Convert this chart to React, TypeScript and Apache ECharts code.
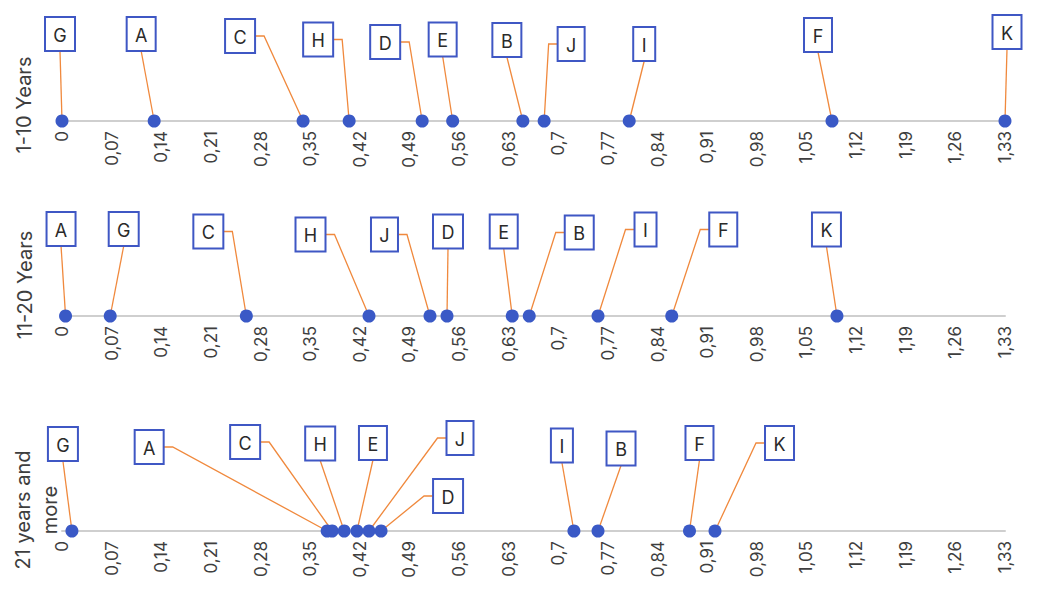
import React, { useEffect, useRef } from "react";
import * as echarts from "echarts";

// ---- data ----
const letters = ["A", "B", "C", "D", "E", "F", "G", "H", "I", "J", "K"];
const rowTitles = ["1-10 Years", "11-20 Years", "21 years and\nmore"];
const years1to10 = [0.13, 0.65, 0.34, 0.508, 0.551, 1.086, 0, 0.405, 0.8, 0.68, 1.33];
const years11to20 = [0.005, 0.659, 0.26, 0.543, 0.635, 0.86, 0.068, 0.433, 0.756, 0.519, 1.093];
const years21plus = [0.374, 0.756, 0.381, 0.45, 0.416, 0.885, 0.014, 0.398, 0.722, 0.433, 0.921];
const rowValues = [years1to10, years11to20, years21plus];
const axisMin = 0;
const axisMax = 1.33;
const axisStep = 0.07;

// ---- layout (label box offsets from each point, px) ----
const labelOffsets1 = [[-13, -87], [-16, -81], [-63, -85], [-37, -79], [-10, -81.5], [-14, -86], [-2, -87], [-31, -81.5], [15, -77], [27, -77], [2, -89]];
const labelOffsets2 = [[-4.5, -87], [50, -83.5], [-38, -84.5], [1, -84.5], [-8.5, -84.5], [51.5, -86.5], [13.5, -87], [-58.5, -81.5], [47.5, -86.5], [-45.5, -81.5], [-10.5, -86.5]];
const labelOffsets3 = [[-178, -84], [23, -82.5], [-87, -89], [67, -35], [16, -88], [10, -88], [-9, -87], [-24, -87.5], [-12, -85.5], [91, -93], [64.5, -88]];
const rowOffsets = [labelOffsets1, labelOffsets2, labelOffsets3];
const gridTops = [20, 215, 430];
const gridHeight = 101;
const titleCenters = [[24, 105], [25, 285], [36, 510]];

const FONT = "Inter, 'Noto Sans', sans-serif";
const DOT = "#3a59c6";
const BOX = "#3f57c4";
const LEAD = "#f0893d";

let measureCtx: CanvasRenderingContext2D | null = null;
function textWidth(t: string, font: string) {
  if (!measureCtx) {
    const c = document.createElement("canvas");
    measureCtx = c.getContext("2d");
  }
  if (!measureCtx) return 12;
  measureCtx.font = font;
  return measureCtx.measureText(t).width;
}

const fmt = (v: number) => String(Number(v.toFixed(2))).replace(".", ",");

export default function App() {
  const ref = useRef<HTMLDivElement>(null);
  useEffect(() => {
    if (!ref.current) return;
    const chart = echarts.init(ref.current, null, { renderer: "svg" });
    const boxFont = "18px Inter";
    const grids: any[] = [];
    const xAxes: any[] = [];
    const yAxes: any[] = [];
    const series: any[] = [];
    rowValues.forEach((vals, r) => {
      grids.push({ left: 62, right: 32, top: gridTops[r], height: gridHeight, containLabel: false });
      xAxes.push({
        type: "value",
        gridIndex: r,
        min: axisMin,
        max: axisMax,
        interval: axisStep,
        position: "bottom",
        axisLine: { show: true, onZero: false, lineStyle: { color: "#cfcfcf", width: 2 } },
        axisTick: { show: false },
        splitLine: { show: false },
        axisLabel: {
          rotate: 90,
          margin: 10,
          fontSize: 17,
          color: "#3e3e3e",
          fontFamily: FONT,
          showMinLabel: true,
          showMaxLabel: true,
          formatter: (v: number) => fmt(v),
        },
      });
      yAxes.push({
        type: "value",
        gridIndex: r,
        min: 0,
        max: 1,
        show: false,
      });
      const offs = rowOffsets[r];
      series.push({
        type: "custom",
        xAxisIndex: r,
        yAxisIndex: r,
        clip: false,
        z: 2,
        data: vals.map((v, i) => [v, 0, i]),
        renderItem: (params: any, api: any) => {
          const i = params.dataIndex;
          const pt = api.coord([api.value(0), 0]);
          const letter = letters[i];
          const [dx, dy] = offs[i];
          const cx = pt[0] + dx;
          const cy = pt[1] + dy;
          const w = Math.round(textWidth(letter, boxFont) + 17);
          const h = 34;
          const left = cx - w / 2;
          const right = cx + w / 2;
          const top = cy - h / 2;
          const bottom = cy + h / 2;
          let pts: number[][];
          if (pt[0] < left - 11.5) pts = [[left, cy], [left - 9, cy], pt];
          else if (pt[0] > right + 11.5) pts = [[right, cy], [right + 9, cy], pt];
          else pts = [[cx, bottom], pt];
          return {
            type: "group",
            children: [
              { type: "polyline", shape: { points: pts }, style: { stroke: LEAD, lineWidth: 1.3, fill: null } },
              { type: "rect", shape: { x: left, y: top, width: w, height: h }, style: { fill: "#fff", stroke: BOX, lineWidth: 2 } },
              {
                type: "text",
                style: {
                  x: cx,
                  y: cy + 1,
                  text: letter,
                  align: "center",
                  verticalAlign: "middle",
                  fill: "#2a2a2a",
                  fontSize: 18,
                  fontFamily: "Inter",
                },
              },
            ],
          };
        },
      });
      series.push({
        type: "scatter",
        xAxisIndex: r,
        yAxisIndex: r,
        z: 5,
        symbolSize: 13,
        clip: false,
        itemStyle: { color: DOT, opacity: 1 },
        data: vals.map((v, i) => ({ name: letters[i], value: [v, 0] })),
      });
    });
    const graphic = rowTitles.map((t, r) => ({
      type: "text",
      x: titleCenters[r][0],
      y: titleCenters[r][1],
      rotation: Math.PI / 2,
      style: {
        text: t,
        align: "center",
        verticalAlign: "middle",
        fill: "#3e3e3e",
        fontSize: 20,
        lineHeight: 27,
        fontFamily: FONT,
      },
    }));
    chart.setOption({
      animation: false,
      backgroundColor: "#ffffff",
      grid: grids,
      xAxis: xAxes,
      yAxis: yAxes,
      series,
      graphic,
    });
    return () => chart.dispose();
  }, []);
  return (
    <div
      ref={ref}
      style={{ position: "fixed", left: 0, top: 0, width: 1037, height: 597, background: "#fff" }}
    />
  );
}
